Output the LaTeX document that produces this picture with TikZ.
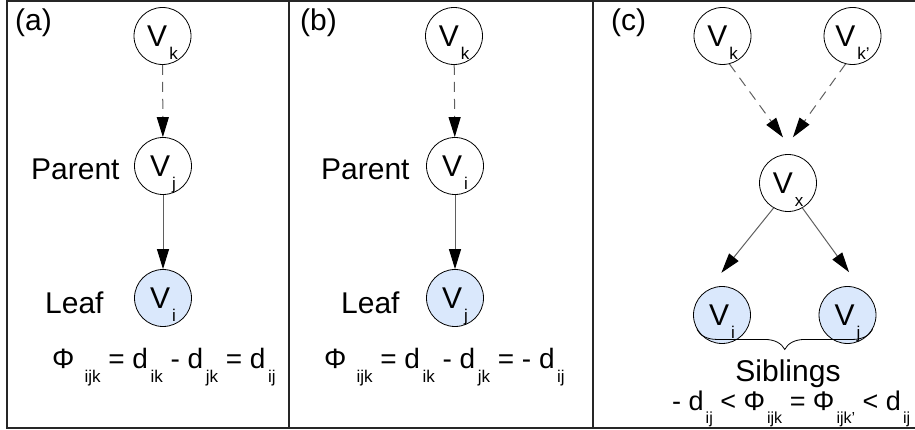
\documentclass[tikz,border=0pt]{standalone}
\usepackage{fontspec}
\setmainfont{Liberation Sans}
\usetikzlibrary{arrows.meta,decorations.pathreplacing}
\definecolor{leafblue}{RGB}{218,232,252}
\definecolor{edgegray}{RGB}{95,95,95}
\newcommand\subx[2][2.5pt]{\kern#1\raisebox{-14pt}{\fontsize{17}{17}\selectfont #2}}
\newcommand\subc[2][2pt]{\kern#1\raisebox{-13.5pt}{\fontsize{16}{16}\selectfont #2}}
\newcommand\subn[1]{\kern2pt\smash{\raisebox{-13pt}{\fontsize{17}{17}\selectfont #1}}}
\begin{document}
\begin{tikzpicture}[x=1pt,y=-1pt,
  vnode/.style={circle,draw=black,line width=0.8pt,minimum size=57pt,inner sep=0pt,font=\fontsize{30}{30}\selectfont},
  leaf/.style={vnode,fill=leafblue},
  lbl/.style={anchor=base west,inner sep=0pt,font=\fontsize{30}{30}\selectfont},
  formula/.style={anchor=base west,inner sep=0pt,font=\fontsize{28}{28}\selectfont},
  formulac/.style={anchor=base west,inner sep=0pt,font=\fontsize{27}{27}\selectfont},
  tip/.style={-{Triangle[length=20pt,width=12pt,color=black]}},
  solidarrow/.style={tip,draw=edgegray,line width=1pt},
  dasharrow/.style={tip,draw=edgegray,line width=1pt,dash pattern=on 10pt off 7pt},
  frame/.style={draw=black!85,line width=1.3pt}]
\useasboundingbox (0,0) rectangle (915,430);
% frame
\draw[frame] (916,1) -- (7,1) -- (7,428) -- (916,428);
\draw[frame] (289,1) -- (289,428);
\draw[frame] (593,1) -- (593,428);

% panel (a)
\node[lbl] (la) at (15,31) {(a)};
\node[vnode] (ak) at (162.5,36) {V\subn{k}};
\node[vnode] (aj) at (163,166) {V\subn{j}};
\node[leaf] (ai) at (163,298) {V\subn{i}};
\node[lbl] (ap) at (31,180) {Parent};
\node[lbl] (al) at (45,313) {Leaf};
\node[formula] (af) at (52,368) {Φ\subx[10pt]{ijk} = d\subx{ik} - d\subx{jk} = d\subx{ij}};
\draw[dasharrow] (ak) -- (aj);
\draw[solidarrow] (aj) -- (ai);

% panel (b)
\node[lbl] (lb) at (300,31) {(b)};
\node[vnode] (bk) at (454,36) {V\subn{k}};
\node[vnode] (bi) at (455,166) {V\subn{i}};
\node[leaf] (bj) at (455,298) {V\subn{j}};
\node[lbl] (bp) at (321,180) {Parent};
\node[lbl] (bl) at (341,313) {Leaf};
\node[formula] (bf) at (324,368) {Φ\subx[10pt]{ijk} = d\subx{ik} - d\subx{jk} = - d\subx{ij}};
\draw[dasharrow] (bk) -- (bi);
\draw[solidarrow] (bi) -- (bj);

% panel (c)
\node[lbl] (lc) at (611,31) {(c)};
\node[vnode] (ck) at (722.5,36) {V\subn{k}};
\node[vnode] (ck2) at (852.5,36) {V\subn{k'}};
\node[vnode] (cx) at (788,183) {V\subn{x}};
\node[leaf] (ci) at (722,315) {V\subn{i}};
\node[leaf] (cj) at (847.5,315) {V\subn{j}};
\draw[dasharrow,shorten >=22pt] (ck.-76) -- (cx.74);
\draw[dasharrow,shorten >=22pt] (ck2.-104) -- (cx.106);
\draw[solidarrow,shorten >=22pt] (cx.-120) -- (ci.120);
\draw[solidarrow,shorten >=22pt] (cx.-60) -- (cj.60);
\draw[decorate,decoration={brace,mirror,amplitude=20pt},line width=0.8pt] (ci.210) -- (cj.-30);
\node[lbl,anchor=base] (sib) at (788,381) {Siblings};
\node[formulac] (cf) at (672,410) {- d\subc{ij} < Φ\subc{ijk} = Φ\subc{ijk'} < d\subc{ij}};
\end{tikzpicture}
\end{document}
